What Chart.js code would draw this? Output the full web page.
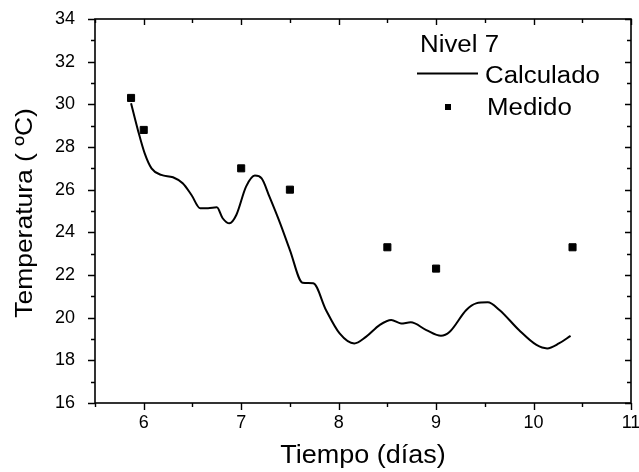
<!DOCTYPE html>
<html>
<head>
<meta charset="utf-8">
<script src="https://cdn.jsdelivr.net/npm/chart.js@4.4.1/dist/chart.umd.min.js"></script>
<style>
  html, body { margin: 0; padding: 0; background: #fff; }
  #wrap { width: 639px; height: 472px; }
</style>
</head>
<body>
<div id="wrap"><canvas id="chart"></canvas></div>
<script>
// Calculated curve (days, °C)
const calcDays = [5.87, 5.94, 6.01, 6.08, 6.18, 6.30, 6.40, 6.49, 6.58, 6.66, 6.75, 6.81, 6.88, 6.95, 7.05, 7.14, 7.21, 7.29, 7.40, 7.50, 7.63, 7.74, 7.87, 8.01, 8.16, 8.28, 8.42, 8.54, 8.64, 8.74, 8.90, 9.05, 9.14, 9.31, 9.41, 9.53, 9.65, 9.85, 10.03, 10.14, 10.26, 10.38];
const calcTemp = [30.05, 28.8, 27.7, 27.0, 26.69, 26.58, 26.30, 25.75, 25.13, 25.13, 25.17, 24.66, 24.42, 24.81, 26.14, 26.66, 26.53, 25.67, 24.42, 23.17, 21.64, 21.61, 20.36, 19.26, 18.79, 19.1, 19.65, 19.89, 19.73, 19.78, 19.42, 19.15, 19.34, 20.36, 20.67, 20.72, 20.36, 19.42, 18.72, 18.56, 18.79, 19.15];

// Measured points
const medDays = [5.87, 6.0, 7.0, 7.5, 8.5, 9.0, 10.4];
const medTemp = [30.3, 28.8, 27.0, 26.0, 23.3, 22.3, 23.3];

const xTicks = [6, 7, 8, 9, 10, 11];
const yTicks = [16, 18, 20, 22, 24, 26, 28, 30, 32, 34];

const FONT = "'Liberation Sans', Arial, sans-serif";

// draws text slightly stretched along its direction, like the original figure
function wideText(ctx, text, x, y, size, stretch, align) {
    ctx.save();
    ctx.translate(x, y);
    ctx.scale(stretch, 1);
    ctx.font = size + "px " + FONT;
    ctx.textAlign = align;
    ctx.textBaseline = "alphabetic";
    ctx.fillText(text, 0, 0);
    ctx.restore();
}

// frame with inward ticks on top/right, outward on bottom/left, plus titles and legend
const framePlugin = {
    id: "frame",
    afterDraw(chart) {
        const { ctx, chartArea: a, scales: { x, y } } = chart;
        ctx.save();
        ctx.strokeStyle = "#000";
        ctx.lineWidth = 1.6;
        ctx.strokeRect(a.left, a.top, a.right - a.left, a.bottom - a.top);
        ctx.lineWidth = 1.4;
        ctx.beginPath();
        for (let v = 5.5; v <= 11.001; v += 0.5) {
            const px = Math.round(x.getPixelForValue(v)) + 0.5;
            const major = Math.abs(v - Math.round(v)) < 1e-6;
            ctx.moveTo(px, a.bottom);
            ctx.lineTo(px, a.bottom + (major ? 7 : 4));
            ctx.moveTo(px, a.top);
            ctx.lineTo(px, a.top + (major ? 6 : 4));
        }
        for (let v = 16; v <= 34; v += 1) {
            const py = Math.round(y.getPixelForValue(v)) + 0.5;
            const major = v % 2 === 0;
            ctx.moveTo(a.left, py);
            ctx.lineTo(a.left - (major ? 7 : 4), py);
            ctx.moveTo(a.right, py);
            ctx.lineTo(a.right - (major ? 6 : 4), py);
        }
        ctx.stroke();

        ctx.fillStyle = "#000";
        // axis titles
        wideText(ctx, "Tiempo (días)", (a.left + a.right) / 2, 463, 25, 1.08, "center");
        ctx.save();
        ctx.translate(32, 213);
        ctx.rotate(-Math.PI / 2);
        wideText(ctx, "Temperatura ( ºC)", 0, 0, 24.5, 1.08, "center");
        ctx.restore();

        // legend
        wideText(ctx, "Nivel 7", 420, 52, 23.5, 1.1, "left");
        wideText(ctx, "Calculado", 485, 83, 23.5, 1.1, "left");
        wideText(ctx, "Medido", 487, 115, 23.5, 1.1, "left");
        ctx.lineWidth = 1.8;
        ctx.beginPath();
        ctx.moveTo(417, 73.5);
        ctx.lineTo(478, 73.5);
        ctx.stroke();
        ctx.fillRect(445, 104, 6, 6);
        ctx.restore();
    }
};

new Chart(document.getElementById("chart"), {
    type: "line",
    data: {
        datasets: [
            {
                label: "Calculado",
                data: calcDays.map((d, i) => ({ x: d, y: calcTemp[i] })),
                borderColor: "#000",
                borderWidth: 2,
                pointRadius: 0,
                tension: 0.4,
                cubicInterpolationMode: "monotone",
                fill: false
            },
            {
                label: "Medido",
                type: "scatter",
                data: medDays.map((d, i) => ({ x: d, y: medTemp[i] })),
                pointStyle: "rect",
                pointRadius: 5,
                backgroundColor: "#000",
                borderColor: "#000",
                borderWidth: 1,
                showLine: false
            }
        ]
    },
    options: {
        responsive: true,
        maintainAspectRatio: false,
        animation: false,
        layout: { padding: { top: 19, right: 0, left: 0, bottom: 0 } },
        plugins: {
            legend: { display: false },
            tooltip: { enabled: false }
        },
        scales: {
            x: {
                type: "linear",
                min: 5.5,
                max: 11,
                afterBuildTicks: s => { s.ticks = xTicks.map(v => ({ value: v })); },
                afterFit: s => { s.height = 69; s.paddingRight = 8; s.paddingLeft = 0; },
                grid: { display: false },
                border: { display: false },
                ticks: { color: "#000", font: { family: FONT, size: 18 }, padding: 1, maxRotation: 0 }
            },
            y: {
                min: 16,
                max: 34,
                afterBuildTicks: s => { s.ticks = yTicks.map(v => ({ value: v })); },
                afterFit: s => { s.width = 95; s.paddingTop = 0; },
                grid: { display: false },
                border: { display: false },
                ticks: { color: "#000", font: { family: FONT, size: 18 }, padding: 12 }
            }
        }
    },
    plugins: [framePlugin]
});
</script>
</body>
</html>
